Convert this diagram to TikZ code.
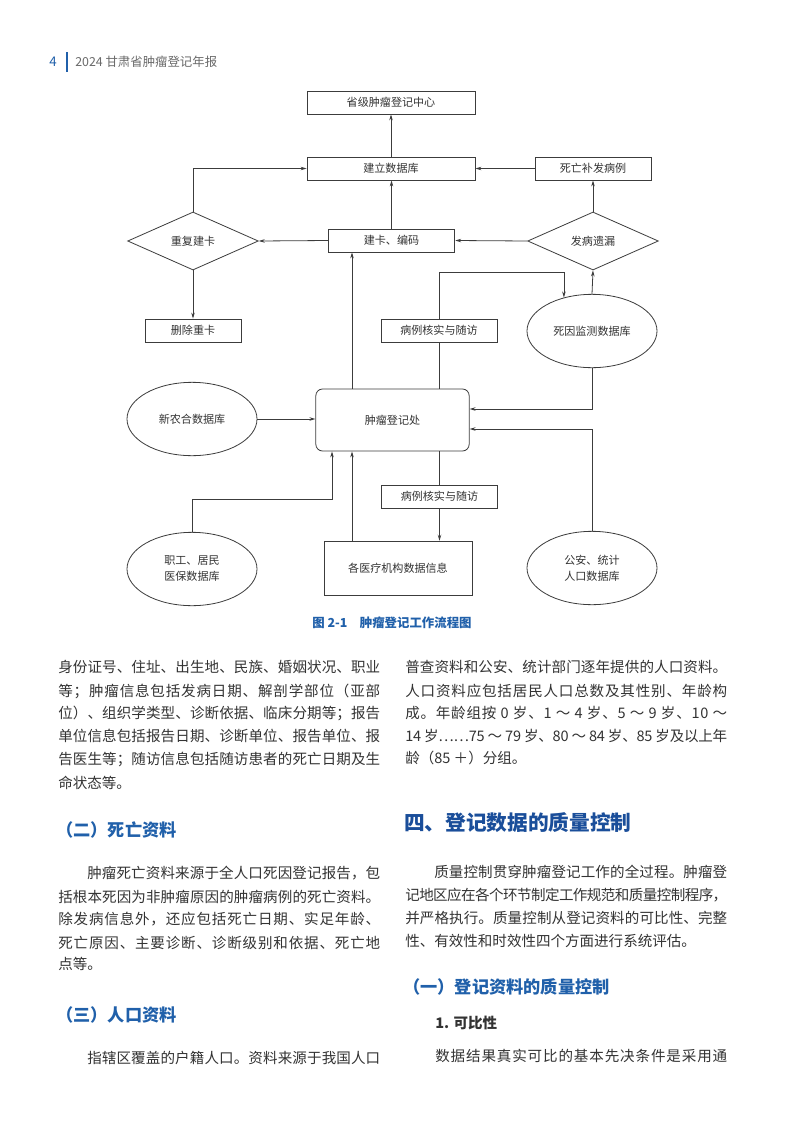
\documentclass[tikz,border=0pt]{standalone}
\usepackage{fontspec}
\setmainfont{Noto Sans CJK SC}
\usepackage{tikz}
\usetikzlibrary{shapes, positioning, arrows.meta}

\definecolor{linegray}{HTML}{3C3C3C}
\definecolor{textgray}{HTML}{333333}
\definecolor{headgray}{HTML}{6A6A6A}
\definecolor{headblue}{HTML}{2060AA}
\definecolor{darkblue}{HTML}{1A4E9A}

% stretchable glue between the characters of a justified line
\newcount\clsa
\newcount\clsb
\clsa=0
\loop
  \clsb=0
  \loop
    \XeTeXinterchartoks\clsa\clsb={\hskip 0pt plus 1pt minus 0.6pt\relax}
    \advance\clsb by 1
  \ifnum\clsb<4 \repeat
  \advance\clsa by 1
\ifnum\clsa<4 \repeat
\newcommand{\fullline}[2]{\makebox[#1][s]{\XeTeXinterchartokenstate=1 #2}}

\begin{document}
\begin{tikzpicture}[x=0.75pt, y=-0.75pt,
    box/.style={draw=linegray, line width=0.6pt, text=textgray, inner sep=0pt,
        font=\fontsize{8.3}{12}\selectfont, minimum height=17.25pt},
    decision/.style={box, diamond, aspect=2.25, minimum width=98pt, minimum height=43.5pt},
    database/.style={box, ellipse, align=center, minimum width=97.5pt, minimum height=55pt},
    arr/.style={draw=linegray, line width=0.6pt, -{Stealth[length=4.5pt, width=2.6pt]}},
    link/.style={draw=linegray, line width=0.6pt},
    body/.style={anchor=west, inner sep=0pt, text=textgray, font=\fontsize{10.9}{13}\selectfont},
    subhead/.style={anchor=west, inner sep=0pt, text=headblue, font=\fontsize{12.9}{15}\selectfont\bfseries},
    mainhead/.style={anchor=west, inner sep=0pt, text=darkblue, font=\fontsize{15.5}{18}\selectfont\bfseries}]
    \useasboundingbox (0,0) rectangle (800,1146);
    \fill[white] (0,0) rectangle (800,1146);

    % Page header
    \node[anchor=west, inner sep=0pt, text=headblue, font=\fontsize{10}{12}\selectfont] (pagenum) at (49,62) {4};
    \draw[headblue, line width=1pt] (67,52) -- (67,72);
    \node[anchor=west, inner sep=0pt, text=headgray, font=\fontsize{9.3}{12}\selectfont] (runhead) at (75,62) {2024 甘肃省肿瘤登记年报};

    % Define the help coordinates of the bent connectors
    \coordinate (xa) at (352,0);
    \coordinate (kink) at (0,272);
    \coordinate (ya) at (0,409);
    \coordinate (yb) at (0,429);
    \coordinate (bend) at (332,499);

    % Upper part of the flow chart
    \node[box, minimum width=126pt] (prov) at (391,102.5) {省级肿瘤登记中心};
    \node[box, minimum width=126pt] (db) at (391,168.5) {建立数据库};
    \node[box, minimum width=87pt] (dsup) at (593,168.5) {死亡补发病例};
    \node[decision] (dup) at (193,241) {重复建卡};
    \node[box, minimum width=95pt] (card) at (391.5,240.5) {建卡、编码};
    \node[decision] (miss) at (593,241) {发病遗漏};
    \node[box, minimum width=72pt] (del) at (193,330.5) {删除重卡};
    \node[box, minimum width=87pt] (check1) at (439,330.5) {病例核实与随访};
    \node[database] (death) at (592,331) {死因监测数据库};

    % Lower part of the flow chart
    \node[box, rounded corners=5pt, minimum width=115pt, minimum height=46.5pt] (reg) at (392.5,420) {肿瘤登记处};
    \node[database] (coop) at (192,419) {新农合数据库};
    \node[box, minimum width=87pt] (check2) at (439.5,496.5) {病例核实与随访};
    \node[box, minimum width=111pt, minimum height=41pt] (hosp) at (398,568.5) {各医疗机构数据信息};
    \node[database] (insur) at (192,569) {职工、居民\\医保数据库};
    \node[database] (police) at (592,568) {公安、统计\\人口数据库};

    % Draw the connectors
    \draw[arr] (db.north) -- (prov.south);
    \draw[arr] (card.north) -- (card.north |- db.south);
    \draw[arr] (dsup.west) -- (db.east);
    \draw[arr] (miss.north) -- (dsup.south);
    \draw[arr] (miss.west) -- (card.east);
    \draw[arr] (card.west) -- (dup.east);
    \draw[arr] (dup.north) |- (db.west);
    \draw[arr] (dup.south) -- (del.north);
    \draw[arr] (death.north) -- (miss.south);
    \draw[arr] (reg.north -| xa) -- (card.south -| xa);
    \draw[link] (reg.north -| check1.south) -- (check1.south);
    \draw[arr] (check1.north) -- (check1.north |- kink) -| (death.130);
    \draw[arr] (death.south) |- (reg.east |- ya);
    \draw[arr] (police.north) |- (reg.east |- yb);
    \draw[arr] (coop.east) -- (coop.east -| reg.west);
    \draw[arr] (insur.north) |- (bend) -- (bend |- reg.south);
    \draw[arr] (hosp.north -| xa) -- (reg.south -| xa);
    \draw[link] (reg.south -| check2.north) -- (check2.north);
    \draw[arr] (check2.south) -- (check2.south |- hosp.north);

    % Caption
    \node[inner sep=0pt, text=headblue, font=\fontsize{9.3}{12}\selectfont\bfseries] (caption) at (392,623) {图 2-1\quad 肿瘤登记工作流程图};

    % Left column
    \node[body] (l1) at (58,667) {\fullline{241.5pt}{身份证号、住址、出生地、民族、婚姻状况、职业}};
    \node[body] (l2) at (58,691) {\fullline{241.5pt}{等；肿瘤信息包括发病日期、解剖学部位（亚部}};
    \node[body] (l3) at (58,713) {\fullline{241.5pt}{位）、组织学类型、诊断依据、临床分期等；报告}};
    \node[body] (l4) at (58,736) {\fullline{241.5pt}{单位信息包括报告日期、诊断单位、报告单位、报}};
    \node[body] (l5) at (58,759) {\fullline{241.5pt}{告医生等；随访信息包括随访患者的死亡日期及生}};
    \node[body] (l6) at (58,783) {命状态等。};
    \node[subhead] (h2) at (56,830) {（二）死亡资料};
    \node[body] (l7) at (87,873) {\fullline{219.75pt}{肿瘤死亡资料来源于全人口死因登记报告，包}};
    \node[body] (l8) at (58,897) {\fullline{241.5pt}{括根本死因为非肿瘤原因的肿瘤病例的死亡资料。}};
    \node[body] (l9) at (58,919) {\fullline{241.5pt}{除发病信息外，还应包括死亡日期、实足年龄、}};
    \node[body] (l10) at (58,943) {\fullline{241.5pt}{死亡原因、主要诊断、诊断级别和依据、死亡地}};
    \node[body] (l11) at (58,964) {点等。};
    \node[subhead] (h3) at (56,1015) {（三）人口资料};
    \node[body] (l12) at (87,1058) {\fullline{219.75pt}{指辖区覆盖的户籍人口。资料来源于我国人口}};

    % Right column
    \node[body] (r1) at (405,667) {\fullline{241.5pt}{普查资料和公安、统计部门逐年提供的人口资料。}};
    \node[body] (r2) at (405,691) {\fullline{241.5pt}{人口资料应包括居民人口总数及其性别、年龄构}};
    \node[body] (r3) at (405,713) {\fullline{241.5pt}{成。年龄组按 0 岁、1 ～ 4 岁、5 ～ 9 岁、10 ～}};
    \node[body] (r4) at (405,736) {\fullline{241.5pt}{14 岁……75 ～ 79 岁、80 ～ 84 岁、85 岁及以上年}};
    \node[body] (r5) at (405,758) {龄（85 ＋）分组。};
    \node[mainhead] (h4) at (404,823) {四、登记数据的质量控制};
    \node[body] (r6) at (434,872) {\fullline{219.75pt}{质量控制贯穿肿瘤登记工作的全过程。肿瘤登}};
    \node[body] (r7) at (405,895) {\fullline{241.5pt}{记地区应在各个环节制定工作规范和质量控制程序，}};
    \node[body] (r8) at (405,918) {\fullline{241.5pt}{并严格执行。质量控制从登记资料的可比性、完整}};
    \node[body] (r9) at (405,941) {性、有效性和时效性四个方面进行系统评估。};
    \node[subhead] (h5) at (403,987) {（一）登记资料的质量控制};
    \node[body, font=\fontsize{10.9}{13}\selectfont\bfseries] (r10) at (435,1023) {1. 可比性};
    \node[body] (r11) at (435,1056) {\fullline{219pt}{数据结果真实可比的基本先决条件是采用通}};
\end{tikzpicture}
\end{document}
